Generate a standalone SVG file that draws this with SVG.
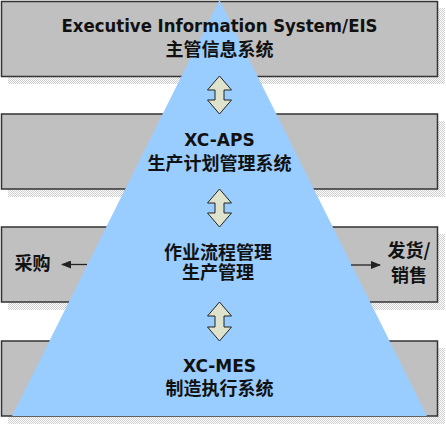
<svg xmlns="http://www.w3.org/2000/svg" width="446" height="424" viewBox="0 0 446 424">
<defs>
<pattern id="dots" width="2" height="2" patternUnits="userSpaceOnUse">
<rect width="2" height="2" fill="#ffffff"/>
<rect width="1" height="1" fill="#cfcfcf"/>
<rect x="1" y="1" width="1" height="1" fill="#cfcfcf"/>
</pattern>
<marker id="ah" viewBox="0 0 10 8" refX="9" refY="4" markerWidth="10" markerHeight="8" markerUnits="userSpaceOnUse" orient="auto">
<path d="M0,0 L10,4 L0,8 Z" fill="#222"/>
</marker>
<style>
.shadow{fill:url(#dots);}
.band{fill:#c0c0c0;stroke:#333;stroke-width:1.5;}
.tri{fill:#99ccff;}
.darr{fill:#dfe3cc;stroke:#222;stroke-width:1;stroke-linejoin:miter;}
.lat{font-family:"DejaVu Sans",Verdana,sans-serif;font-weight:bold;font-size:17px;fill:#111;text-anchor:middle;}
.cjk{font-family:"Noto Sans CJK SC","Noto Sans CJK TC",sans-serif;font-weight:bold;font-size:18px;fill:#111;text-anchor:middle;}
.conn{stroke:#222;stroke-width:1.3;fill:none;}
</style>
</defs>
<g id="bands">
<g id="band-eis">
<rect class="shadow" x="8" y="8" width="437" height="76"/>
<rect class="band" x="1.5" y="1.5" width="436" height="75"/>
</g>
<g id="band-aps">
<rect class="shadow" x="8" y="121" width="437" height="76"/>
<rect class="band" x="1.5" y="114" width="436" height="75"/>
</g>
<g id="band-flow">
<rect class="shadow" x="8" y="234" width="437" height="76"/>
<rect class="band" x="1.5" y="227" width="436" height="75"/>
</g>
<g id="band-mes">
<rect class="shadow" x="8" y="348" width="437" height="76"/>
<rect class="band" x="1.5" y="341" width="436" height="75"/>
</g>
</g>
<g id="pyramid">
<path class="tri" d="M219.5,0 L427,416 L12,416 Z"/>
</g>
<g id="connectors">
<path class="darr" d="M219.5,76 L231.5,90 L224,90 L224,100 L231.5,100 L219.5,114 L207.5,100 L215,100 L215,90 L207.5,90 Z"/>
<path class="darr" d="M219.5,189 L231.5,203 L224,203 L224,213 L231.5,213 L219.5,227 L207.5,213 L215,213 L215,203 L207.5,203 Z"/>
<path class="darr" d="M219.5,302 L231.5,316 L224,316 L224,327 L231.5,327 L219.5,341 L207.5,327 L215,327 L215,316 L207.5,316 Z"/>
<line class="conn" x1="87" y1="264.5" x2="62" y2="264.5" marker-end="url(#ah)"/>
<line class="conn" x1="351" y1="265" x2="380" y2="265" marker-end="url(#ah)"/>
</g>
<g id="label-eis">
<text class="lat" x="219.5" y="32" textLength="316" lengthAdjust="spacingAndGlyphs">Executive Information System/EIS</text>
<text class="cjk" x="219.5" y="55.5">主管信息系统</text>
</g>
<g id="label-aps">
<text class="lat" x="219.5" y="146">XC-APS</text>
<text class="cjk" x="219.5" y="169.5">生产计划管理系统</text>
</g>
<g id="label-flow">
<text class="cjk" x="218" y="259">作业流程管理</text>
<text class="cjk" x="218" y="279">生产管理</text>
</g>
<g id="label-purchase">
<text class="cjk" x="32.5" y="270">采购</text>
</g>
<g id="label-sales">
<text class="cjk" x="409" y="257">发货/</text>
<text class="cjk" x="409" y="282">销售</text>
</g>
<g id="label-mes">
<text class="lat" x="219.5" y="372">XC-MES</text>
<text class="cjk" x="219.5" y="394.5">制造执行系统</text>
</g>
</svg>
